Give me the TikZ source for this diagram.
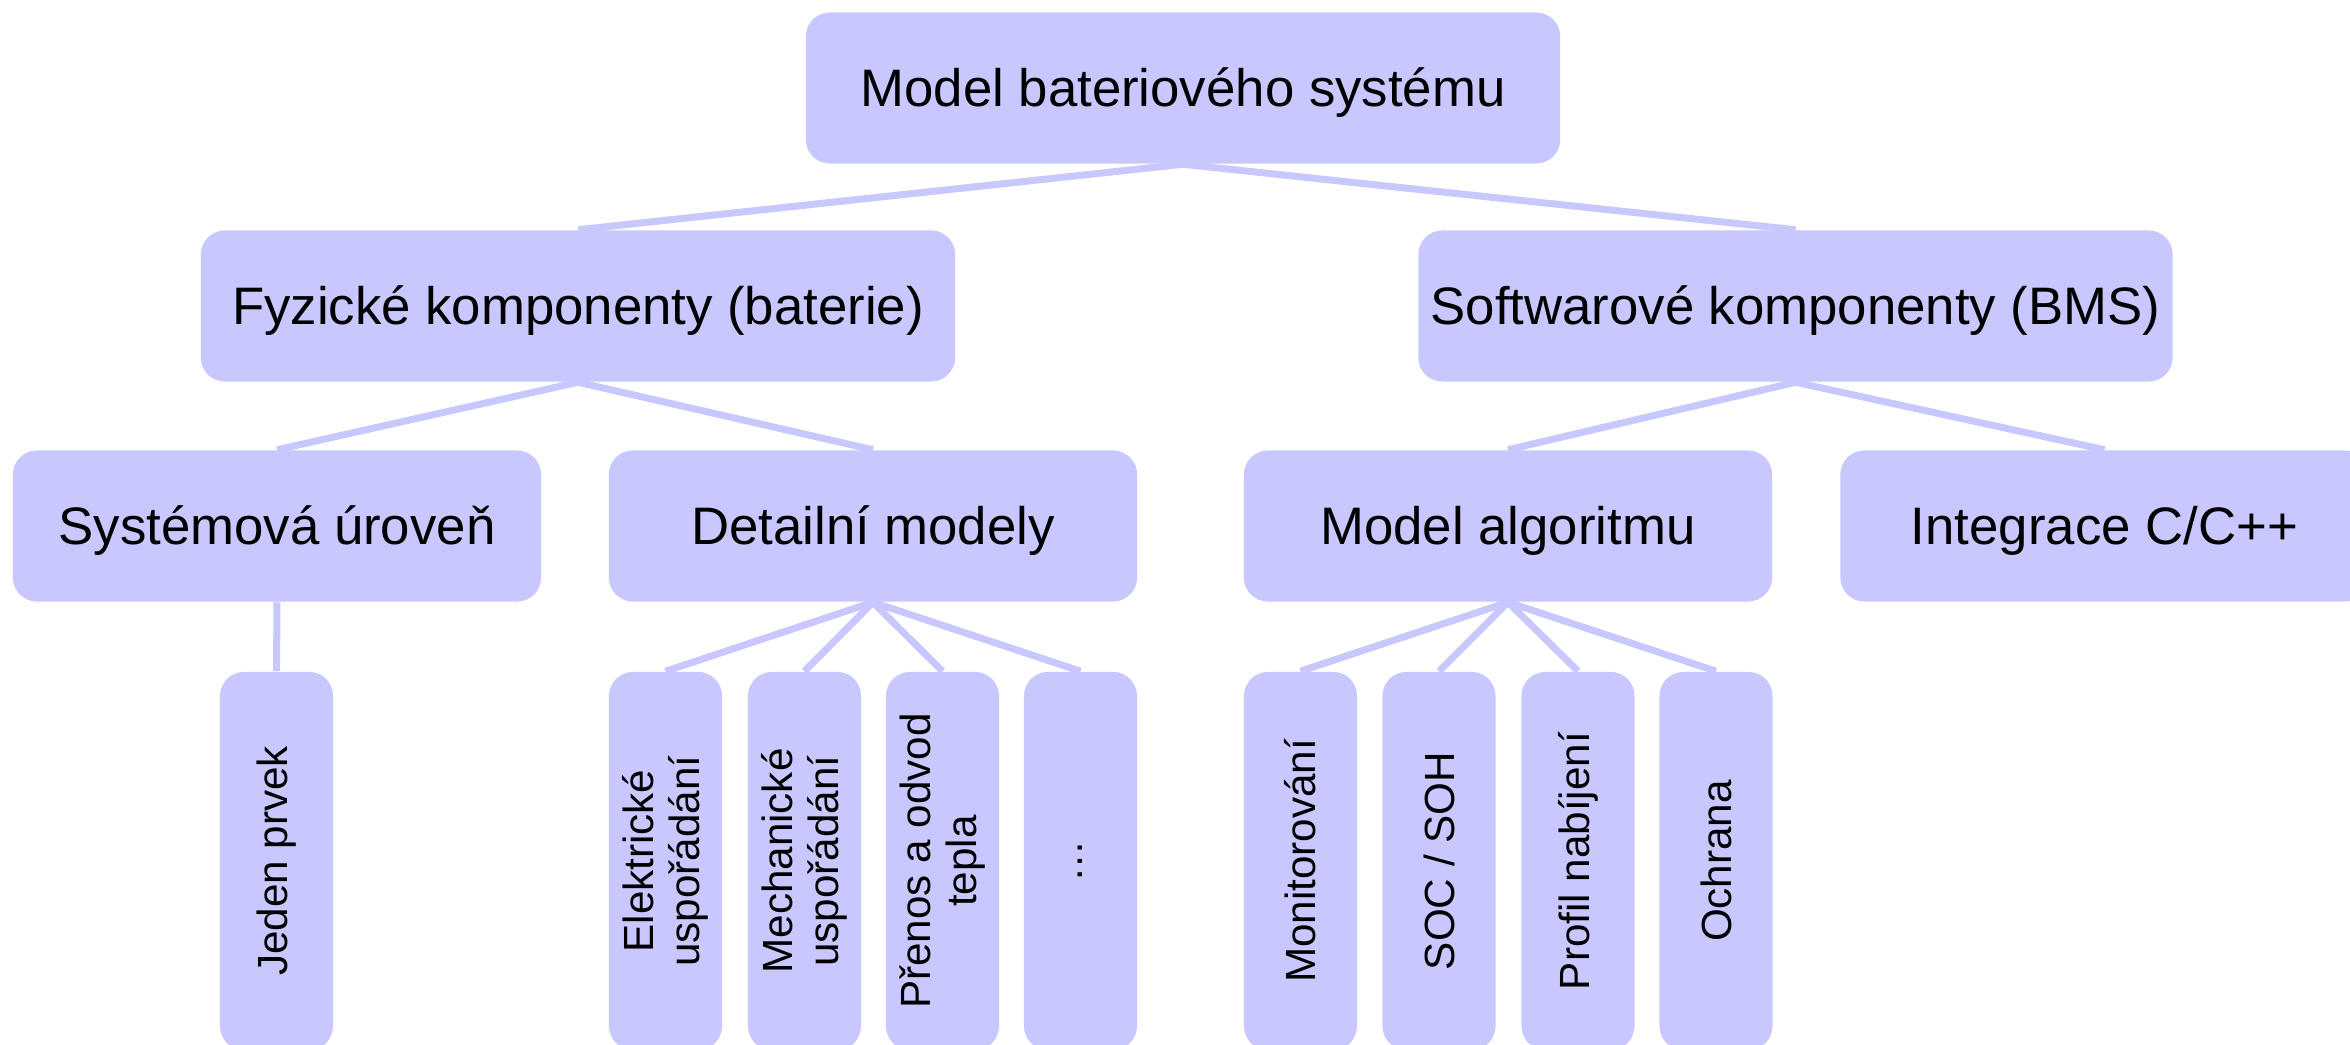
\documentclass[tikz,border=0pt]{standalone}
\usepackage{fontspec}
\setmainfont{Liberation Sans}
\definecolor{boxfill}{HTML}{C8C8FF}
\tikzset{
  box/.style={fill=boxfill, rounded corners=0.24cm, inner sep=0pt,
    text=black, align=center},
  head/.style={box, minimum width=7.54cm, minimum height=1.51cm,
    font=\fontsize{15}{18}\selectfont, text height=10.7pt, text depth=0pt},
  branch/.style={box, minimum width=5.28cm, minimum height=1.51cm,
    font=\fontsize{15}{18}\selectfont, text height=10.7pt, text depth=0pt},
  leaf/.style={box, rotate=90, minimum width=3.78cm, minimum height=1.13cm,
    font=\fontsize{12}{13}\selectfont},
  link/.style={draw=boxfill, line width=0.07cm}
}
\begin{document}
\begin{tikzpicture}[x=0.01cm, y=-0.01cm]
\useasboundingbox (0,0) rectangle (2350,1045);
\clip (0,0) rectangle (2350,1045);

% root
\node[head] (root) at (1183,88) {Model bateriového systému};

% second level
\node[head] (phys) at (578,306) {Fyzické komponenty (baterie)};
\node[head] (soft) at (1795.5,306) {Softwarové komponenty (BMS)};

% third level
\node[branch] (sys) at (277,526) {Systémová úroveň};
\node[branch] (det) at (873,526) {Detailní modely};
\node[branch] (alg) at (1508,526) {Model algoritmu};
\node[branch] (integ) at (2104.5,526) {Integrace C/C++};

% leaves (rotated: the east anchor faces upwards)
\node[leaf] (jeden) at (276.5,861) {Jeden prvek};
\node[leaf] (elek) at (665.5,861) {Elektrické\\uspořádání};
\node[leaf] (mech) at (804.5,861) {Mechanické\\uspořádání};
\node[leaf] (teplo) at (942.5,861) {Přenos a odvod\\tepla};
\node[leaf] (dalsi) at (1080.5,861) {…};
\node[leaf] (mon) at (1300.5,861) {Monitorování};
\node[leaf] (soc) at (1439,861) {SOC / SOH};
\node[leaf] (nab) at (1578,861) {Profil nabíjení};
\node[leaf] (ochr) at (1716,861) {Ochrana};

% connectors
\draw[link] (root.south) -- (phys.north);
\draw[link] (root.south) -- (soft.north);
\draw[link] (phys.south) -- (sys.north);
\draw[link] (phys.south) -- (det.north);
\draw[link] (soft.south) -- (alg.north);
\draw[link] (soft.south) -- (integ.north);
\draw[link] (sys.south) -- (jeden.east);
\foreach \c in {elek,mech,teplo,dalsi}
  \draw[link] (det.south) -- (\c.east);
\foreach \c in {mon,soc,nab,ochr}
  \draw[link] (alg.south) -- (\c.east);
\end{tikzpicture}
\end{document}
